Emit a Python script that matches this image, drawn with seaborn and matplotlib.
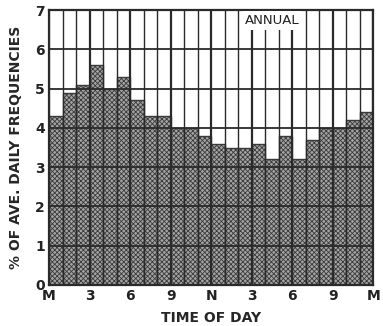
import numpy as np
import pandas as pd
import seaborn as sns
import matplotlib.pyplot as plt

# datos: porcentaje horario de la frecuencia diaria media (anual)
horas = list(range(24))
porcentaje = [4.3, 4.9, 5.1, 5.6, 5.0, 5.3, 4.7, 4.3, 4.3, 4.0, 4.0, 3.8,
              3.6, 3.5, 3.5, 3.6, 3.2, 3.8, 3.2, 3.7, 4.0, 4.0, 4.2, 4.4]
etiquetas_x = ["M", "3", "6", "9", "N", "3", "6", "9", "M"]
etiquetas_y = ["0", "1", "2", "3", "4", "5", "6", "7"]

df = pd.DataFrame({"hora": horas, "pct": porcentaje})

sns.set_style("white")
plt.rcParams["font.family"] = ["DejaVu Sans"]
plt.rcParams["hatch.color"] = "#6a6a6a"
plt.rcParams["hatch.linewidth"] = 0.6

fig = plt.figure(figsize=(3.83, 3.26), dpi=100)
ax = fig.add_axes([0.128, 0.126, 0.847, 0.843])

sns.barplot(data=df, x="hora", y="pct", ax=ax, width=1.0, color="#a4a4a4",
            saturation=1, edgecolor="#3a3a3a", linewidth=1.0, hatch="xxxxxxx", zorder=1)

# rejilla encima de las barras
for h in range(25):
    lw = 1.6 if h % 3 == 0 else 1.0
    ax.axvline(h - 0.5, color="#2a2a2a", lw=lw, zorder=3)
for v in range(8):
    ax.axhline(v, color="#2a2a2a", lw=1.3, zorder=3)

ax.set_xlim(-0.5, 23.5)
ax.set_ylim(0, 7)
ax.set_xticks([h - 0.5 for h in range(0, 25, 3)])
ax.set_xticklabels(etiquetas_x, fontsize=10, color="#222222", fontweight="semibold")
ax.set_yticks(range(8))
ax.set_yticklabels(etiquetas_y, fontsize=10, color="#222222", fontweight="semibold")
ax.tick_params(length=0, pad=3)
for s in ax.spines.values():
    s.set_color("#2a2a2a")
    s.set_linewidth(1.6)
    s.set_zorder(4)

ax.set_xlabel("TIME OF DAY", fontsize=10, fontweight="bold", labelpad=6)
ax.set_ylabel("% OF AVE. DAILY FREQUENCIES", fontsize=10, fontweight="bold", labelpad=9)

ax.text(16.0, 6.74, "ANNUAL", fontsize=9.5, ha="center", va="center", zorder=5,
        color="#222222", bbox=dict(facecolor="white", edgecolor="none", pad=2.0))

plt.savefig("out.png", dpi=100)
